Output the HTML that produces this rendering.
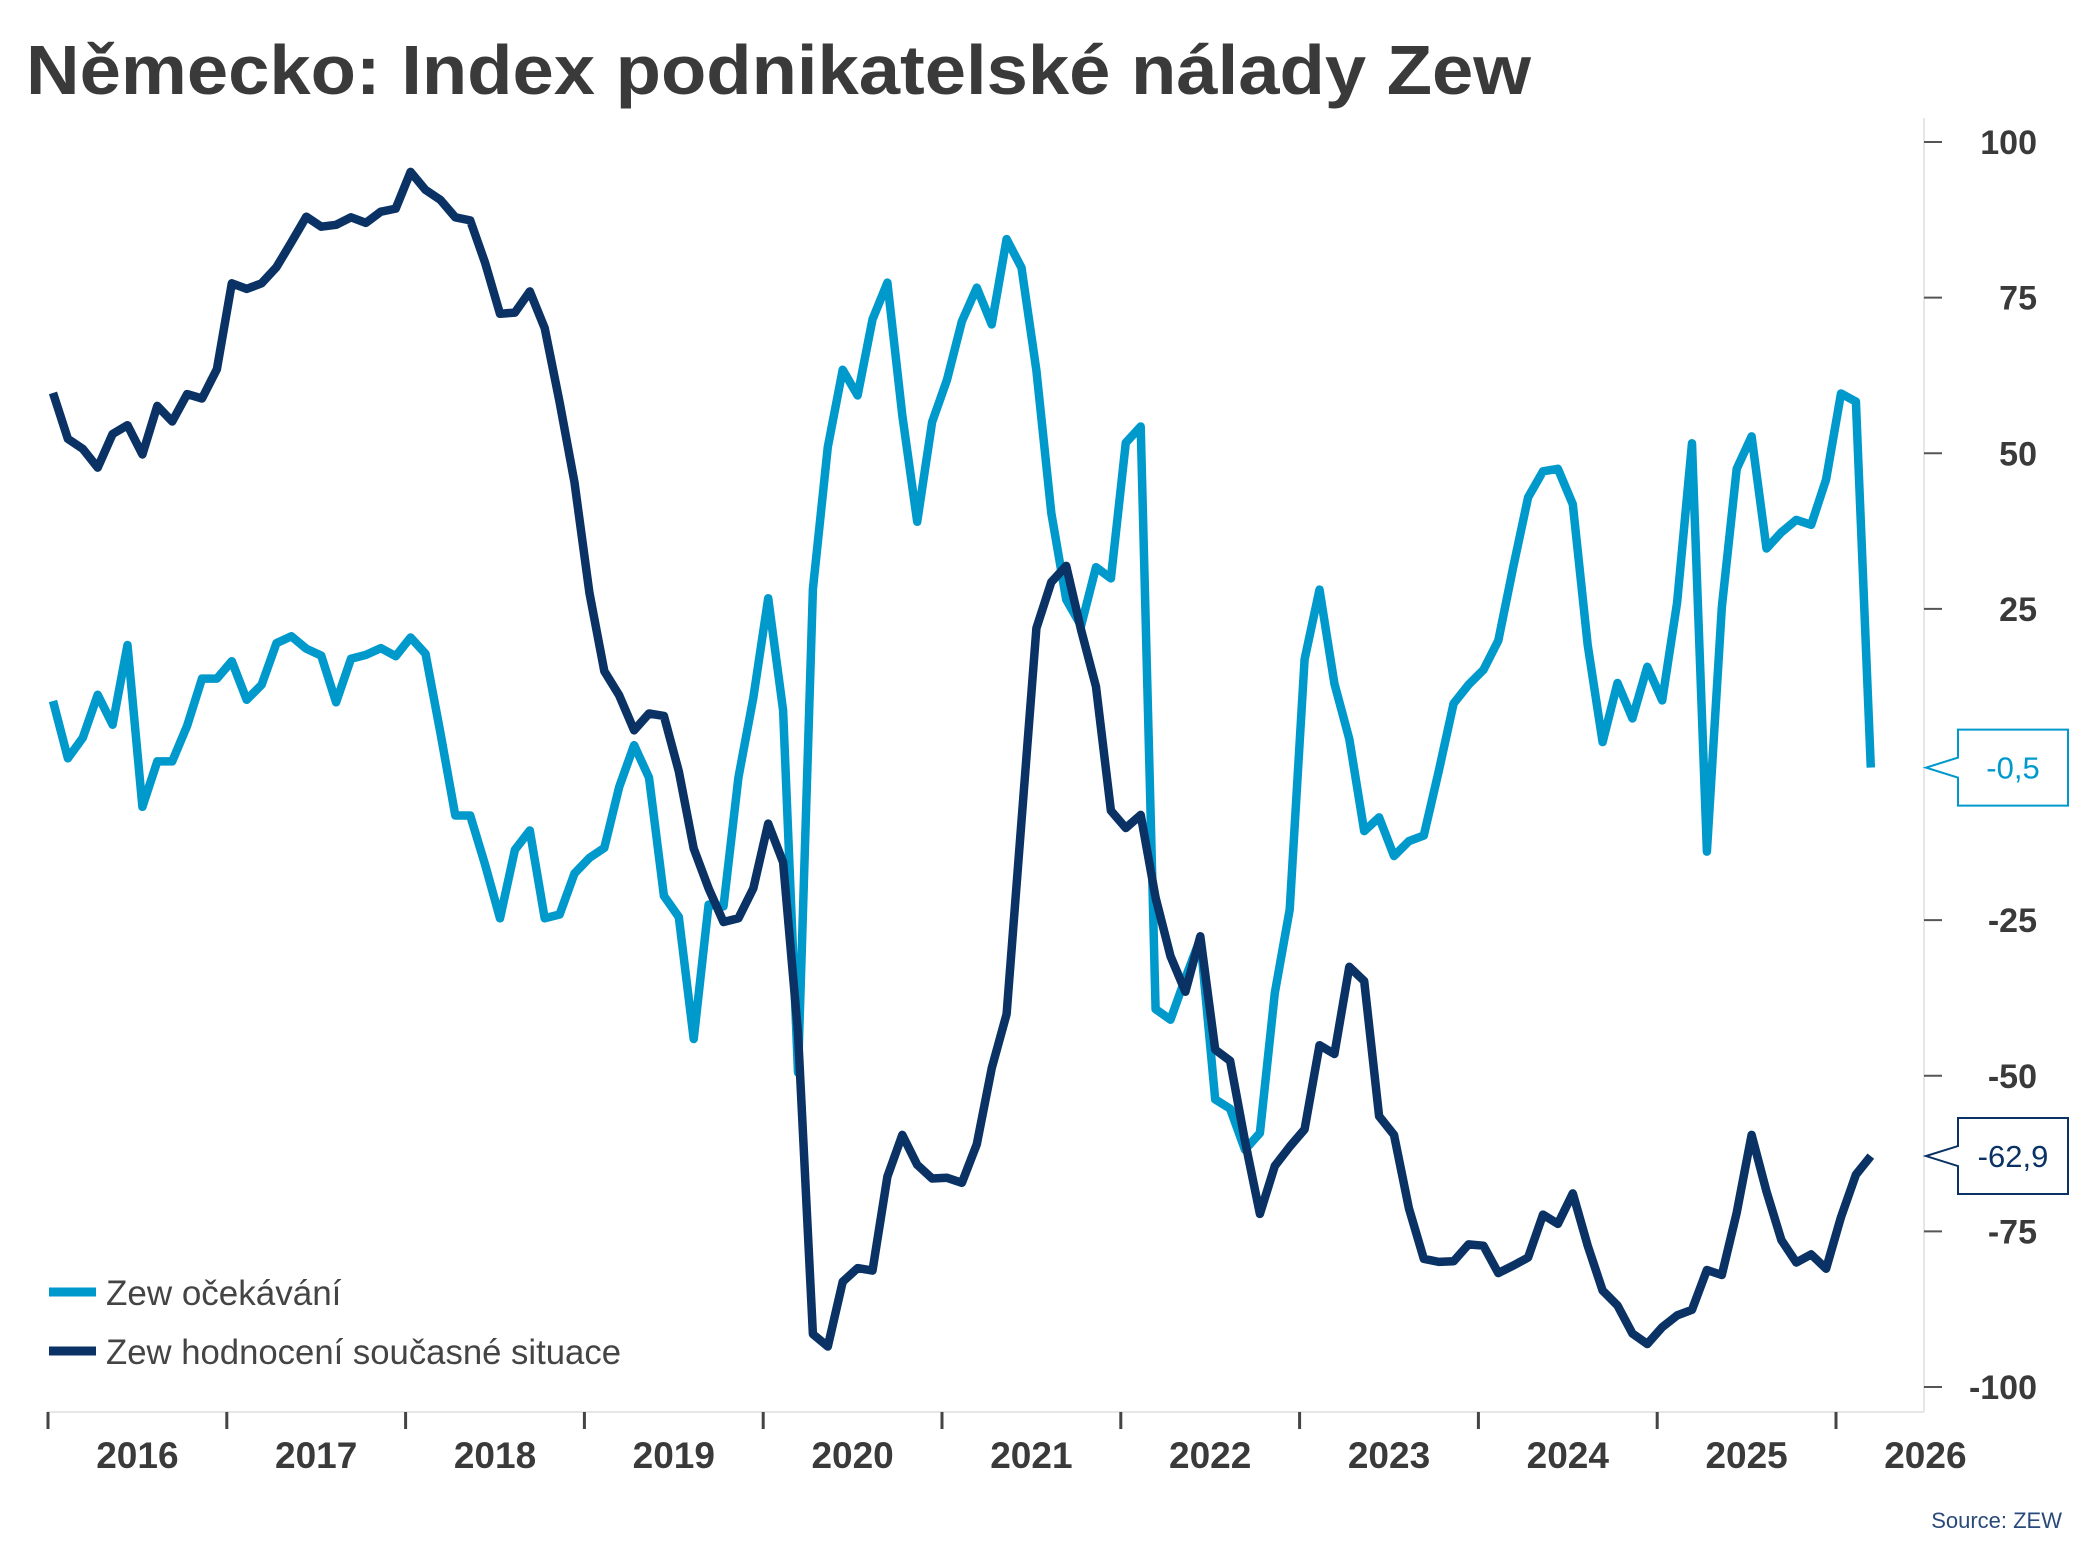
<!DOCTYPE html>
<html><head><meta charset="utf-8"><style>
html,body{margin:0;padding:0;background:#fff;}
svg{display:block;}
</style></head><body>
<svg id="chart" width="2093" height="1568" viewBox="0 0 2093 1568" xmlns="http://www.w3.org/2000/svg">
<text x="26" y="94" font-family="Liberation Sans, sans-serif" font-weight="bold" font-size="70" fill="#3a3a3a" textLength="1505" lengthAdjust="spacingAndGlyphs">Německo: Index podnikatelské nálady Zew</text>
<line x1="1924" y1="118" x2="1924" y2="1412" stroke="#e6e6e6" stroke-width="2"/>
<line x1="47" y1="1412" x2="1924" y2="1412" stroke="#e6e6e6" stroke-width="2"/>
<g id="yaxis"></g>
<g id="xaxis"></g>
<g id="series"></g>
<g>
<line x1="49" y1="1292" x2="96" y2="1292" stroke="#0099cc" stroke-width="9"/>
<text x="106" y="1305" font-family="Liberation Sans, sans-serif" font-size="35" fill="#444">Zew očekávání</text>
<line x1="49" y1="1351" x2="96" y2="1351" stroke="#0a3264" stroke-width="9"/>
<text x="106" y="1364" font-family="Liberation Sans, sans-serif" font-size="35" fill="#444" textLength="515" lengthAdjust="spacingAndGlyphs">Zew hodnocení současné situace</text>
</g>
<text x="2062" y="1528" text-anchor="end" font-family="Liberation Sans, sans-serif" font-size="22" fill="#2a4a7a">Source: ZEW</text>
<g id="callouts"></g>
</svg>
<script>
const yTicks = [100, 75, 50, 25, -25, -50, -75, -100];
const yearLabels = ["2016","2017","2018","2019","2020","2021","2022","2023","2024","2025","2026"];
const expectations = [10.2,1.0,4.3,11.2,6.4,19.2,-6.8,0.5,0.5,6.2,13.8,13.8,
16.6,10.4,12.8,19.5,20.6,18.6,17.5,10.0,17.0,17.6,18.7,17.4,
20.4,17.8,5.1,-8.2,-8.2,-16.1,-24.7,-13.7,-10.6,-24.7,-24.1,-17.5,
-15.0,-13.4,-3.6,3.1,-2.1,-21.1,-24.5,-44.1,-22.5,-22.8,-2.1,10.7,
26.7,8.7,-49.5,28.2,51.0,63.4,59.3,71.5,77.4,56.1,39.0,55.0,
61.8,71.2,76.6,70.7,84.4,79.8,63.3,40.4,26.5,22.3,31.7,29.9,
51.7,54.3,-39.3,-41.0,-34.3,-28.0,-53.8,-55.3,-61.9,-59.2,-36.7,-23.3,
16.9,28.1,13.0,4.1,-10.7,-8.5,-14.7,-12.3,-11.4,-1.1,9.8,12.8,
15.2,19.9,31.7,42.9,47.1,47.5,41.8,19.2,3.6,13.1,7.4,15.7,
10.3,26.0,51.6,-14.0,25.2,47.5,52.7,34.7,37.3,39.3,38.5,45.8,
59.6,58.3,-0.5];
const currentSituation = [59.7,52.3,50.7,47.7,53.1,54.5,49.8,57.6,55.1,59.5,58.8,63.5,
77.3,76.4,77.3,79.9,83.9,88.0,86.4,86.7,87.9,87.0,88.8,89.3,
95.2,92.3,90.7,87.9,87.4,80.6,72.4,72.6,76.0,70.1,58.2,45.3,
27.6,15.0,11.1,5.5,8.2,7.8,-1.1,-13.5,-19.9,-25.3,-24.7,-19.9,
-9.5,-15.7,-43.1,-91.5,-93.5,-83.1,-80.9,-81.3,-66.2,-59.5,-64.3,-66.5,
-66.4,-67.2,-61.0,-48.8,-40.1,-9.1,21.9,29.3,31.9,21.6,12.5,-7.4,
-10.2,-8.1,-21.4,-30.8,-36.5,-27.6,-45.8,-47.6,-60.5,-72.2,-64.5,-61.4,
-58.6,-45.1,-46.5,-32.5,-34.8,-56.5,-59.5,-71.3,-79.4,-79.9,-79.8,-77.1,
-77.3,-81.7,-80.5,-79.2,-72.3,-73.8,-68.9,-77.3,-84.5,-86.9,-91.4,-93.1,
-90.4,-88.5,-87.6,-81.2,-82.0,-72.0,-59.5,-68.6,-76.4,-80.0,-78.7,-81.0,
-72.7,-65.9,-62.9];
const lastLabels = ["-0,5","-62,9"];

const NS="http://www.w3.org/2000/svg";
const X0=48, YEARW=178.8;
const xm = m => X0 + 5 + m*YEARW/12;
const xYear = i => X0 + i*YEARW;
const y = v => 764.5 - v*6.225;
function mk(tag, attrs, parent){const e=document.createElementNS(NS,tag);for(const k in attrs)e.setAttribute(k,attrs[k]);parent.appendChild(e);return e;}

const ya=document.getElementById('yaxis');
yTicks.forEach(t=>{
  const l=mk('line',{x1:1924,y1:y(t),x2:1942,y2:y(t),stroke:'#555','stroke-width':2},ya);
  
  
  const tx=mk('text',{x:2037,y:y(t)+12,'text-anchor':'end','font-family':'Liberation Sans, sans-serif','font-weight':'bold','font-size':34,fill:'#3a3a3a'},ya);
  tx.textContent=String(t);
  
  
});
const xa=document.getElementById('xaxis');
yearLabels.forEach((lab,i)=>{
  const l=mk('line',{x1:xYear(i),y1:1412,x2:xYear(i),y2:1429,stroke:'#444','stroke-width':3},xa);
  
  
  const tx=mk('text',{x:xYear(i)+YEARW/2,y:1468,'text-anchor':'middle','font-family':'Liberation Sans, sans-serif','font-weight':'bold','font-size':37,fill:'#3a3a3a'},xa);
  tx.textContent=lab;
  
  
});
const sg=document.getElementById('series');
function line(data,color,name){
  const d=data.map((v,i)=>(i?'L':'M')+xm(i).toFixed(1)+','+y(v).toFixed(1)).join(' ');
  const p=mk('path',{d:d,fill:'none',stroke:color,'stroke-width':8.5,'stroke-linejoin':'round'},sg);
  
  
}
line(expectations,'#0099cc','line-expectations');
line(currentSituation,'#0a3264','line-current-situation');

const cg=document.getElementById('callouts');
[[expectations,'#0099cc',lastLabels[0],'callout-expectations'],[currentSituation,'#0a3264',lastLabels[1],'callout-current']].forEach(([data,c,lab,nm])=>{
  const v=data[data.length-1], yy=y(v);
  const g=mk('g',{},cg);
  
  
  mk('path',{d:`M1958,${yy-38} L2068,${yy-38} L2068,${yy+38} L1958,${yy+38} L1958,${yy+10} L1926,${yy} L1958,${yy-10} Z`,fill:'#fff',stroke:c,'stroke-width':2},g);
  const t=mk('text',{x:2013,y:yy+11,'text-anchor':'middle','font-family':'Liberation Sans, sans-serif','font-size':31,fill:c},g);
  t.textContent=lab;
});
</script>
</body></html>
